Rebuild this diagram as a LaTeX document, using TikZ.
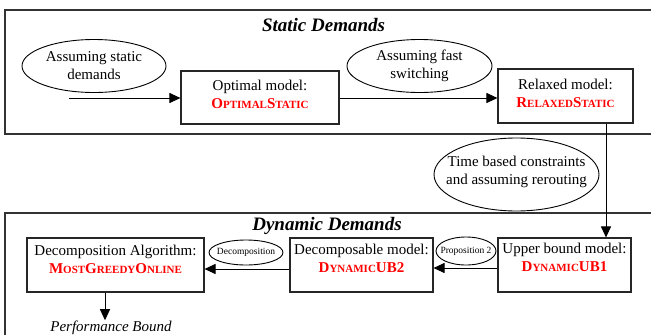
\documentclass[tikz,border=0pt]{standalone}
\usepackage{fontspec}
\setmainfont{Liberation Serif}
\usetikzlibrary{shapes.geometric,arrows.meta}
% faked bold small capitals for the model names
\newcommand\smc[1]{{\fontsize{11}{11}\selectfont #1}}
\newcommand\modelname[1]{{\bfseries\color{red}#1}}
\begin{document}
\begin{tikzpicture}[x=1pt,y=-1pt,
  frame/.style={draw=black!80, line width=1.2pt},
  box/.style={draw=black!85, line width=1.1pt, inner sep=0pt},
  oval/.style={draw, ellipse, line width=0.9pt, inner sep=0pt},
  ovtext/.style={align=center, inner sep=0pt, font=\fontsize{15}{18}\selectfont},
  smalltext/.style={inner sep=0pt, font=\fontsize{9.5}{11}\selectfont},
  boxtext/.style={align=center, inner sep=0pt, font=\fontsize{15}{18}\selectfont},
  arr/.style={line width=1pt, -{Triangle[length=11pt,width=10pt]}},
  title/.style={inner sep=0pt, anchor=base, font=\fontsize{19}{22}\selectfont\bfseries\itshape}]
\useasboundingbox (0,0) rectangle (651,335);
\fill[white] (0,0) rectangle (651,335);

% the two group frames
\draw[frame] (651,10) -- (5,10) -- (5,134) -- (651,134);
\draw[frame] (651,213) -- (5,213) -- (5,335);
\node[title] (tstatic) at (323.5,31) {Static Demands};
\node[title] (tdynamic) at (327,230) {Dynamic Demands};

% static models
\node[box, minimum width=158pt, minimum height=53pt,
  label={[boxtext, yshift=3pt]center:Optimal model:\\
  \modelname{O\smc{PTIMAL}S\smc{TATIC}}}] (opt) at (260,97.5) {};
\node[box, minimum width=135pt, minimum height=54pt,
  label={[boxtext, yshift=2.5pt]center:Relaxed model:\\
  \modelname{R\smc{ELAXED}S\smc{TATIC}}}] (rel) at (565.5,96) {};

% dynamic models
\node[box, minimum width=133pt, minimum height=54pt,
  label={[boxtext, yshift=8pt]center:Upper bound model:\\
  \modelname{D\smc{YNAMIC}UB1}}] (ub) at (564.5,265) {};
\node[box, minimum width=143pt, minimum height=54pt,
  label={[boxtext, yshift=6.5pt]center:Decomposable model:\\
  \modelname{D\smc{YNAMIC}UB2}}] (dec) at (361.5,265) {};
\node[box, minimum width=177pt, minimum height=54pt,
  label={[boxtext, yshift=5.5pt]center:Decomposition Algorithm:\\
  \modelname{M\smc{OST}G\smc{REEDY}O\smc{NLINE}}}] (mgo) at (115.5,265) {};

% assumption ovals
\node[oval, minimum width=144pt, minimum height=53pt,
  label={[ovtext]center:Assuming static\\demands}] (e1) at (94,66) {};
\node[oval, minimum width=145pt, minimum height=53pt,
  label={[ovtext]center:Assuming fast\\switching}] (e2) at (419.5,66) {};
\node[oval, minimum width=165pt, minimum height=73pt,
  label={[ovtext, yshift=2.5pt]center:Time based constraints\\and assuming rerouting}] (e3) at (516.5,174.5) {};
\node[oval, minimum width=74pt, minimum height=25pt,
  label={[smalltext]center:Decomposition}] (dcp) at (246,252.5) {};
\node[oval, minimum width=60pt, minimum height=28pt,
  label={[smalltext]center:Proposition 2}] (prop) at (466,251) {};

% result
\node[inner sep=0pt, anchor=base, font=\fontsize{15}{18}\selectfont\itshape] (pb) at (111,331) {Performance Bound};

% connectors
\coordinate (a1s) at (69,98);
\draw[arr] (a1s) -- (a1s -| opt.west);
\draw[arr] (opt.east |- 0,98) -- (rel.west |- 0,98);
\draw[arr] (rel.south -| 606,0) -- (ub.north -| 606,0);
\draw[arr] (ub.west |- 0,268) -- (dec.east |- 0,268);
\draw[arr] (dec.west |- 0,269) -- (mgo.east |- 0,269);
\draw[arr] (mgo.south -| 105,0) -- (pb.north -| 105,0);
\end{tikzpicture}
\end{document}
